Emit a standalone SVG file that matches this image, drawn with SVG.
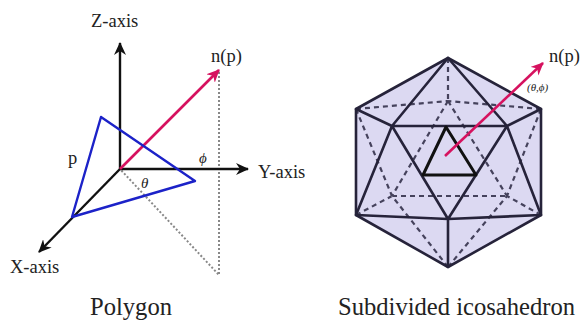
<svg xmlns="http://www.w3.org/2000/svg" width="580" height="320" viewBox="0 0 580 320">
<style>
text{font-family:"Liberation Serif",serif;fill:#222}
.lb{font-size:18.5px}
.cap{font-size:24.6px}
.gr{font-style:italic}
.ax{stroke:#111;stroke-width:2.4;fill:none}
.dot{stroke:#888;stroke-width:2;stroke-dasharray:2 2;fill:none}
.pink{stroke:#d6125f;stroke-width:2.6;fill:none}
.solid{stroke:#26233a;stroke-width:2.6;fill:none;stroke-linecap:round;stroke-linejoin:round}
.dash{stroke:#45425c;stroke-width:2.2;fill:none;stroke-dasharray:5 4}
</style>
<defs>
<marker id="ah" markerUnits="userSpaceOnUse" markerWidth="14" markerHeight="12" refX="12" refY="6" orient="auto"><path d="M0 0L13 6L0 12L4 6Z" fill="#111"/></marker>
<marker id="ap" markerUnits="userSpaceOnUse" markerWidth="14" markerHeight="12" refX="12" refY="6" orient="auto"><path d="M0 0L13 6L0 12L4 6Z" fill="#d6125f"/></marker>
</defs>
<rect width="580" height="320" fill="#fff"/>
<g id="connectors">
<path class="dot" d="M219 72V275L120 169"/>
<path class="ax" marker-end="url(#ah)" d="M120 169V43"/>
<path class="ax" marker-end="url(#ah)" d="M120 169H248"/>
<path class="ax" marker-end="url(#ah)" d="M120 169L39 252"/>
<path class="pink" marker-end="url(#ap)" d="M120 169L219 70"/>
</g>
<g id="polygon"><path d="M101 117L195 181L72 217Z" fill="none" stroke="#1c22c8" stroke-width="2.4" stroke-linejoin="round"/></g>
<g id="labels-left">
<text class="lb" x="91" y="27">Z-axis</text>
<text class="lb" x="211" y="62">n(p)</text>
<text class="lb" x="258" y="178">Y-axis</text>
<text class="lb" x="10" y="273">X-axis</text>
<text class="lb" x="68" y="164">p</text>
<text class="gr" font-size="15" x="199" y="163">ϕ</text>
<text class="gr" font-size="15" x="141" y="188">θ</text>
<text class="cap" x="90" y="315">Polygon</text>
</g>
<g id="icosahedron">
<path d="M448 58L541 109V215L448 267L356 215V109Z" fill="#dcd9f2"/>
<path class="dash" d="M448 58V101M356 109L448 101M541 109L448 101M448 101L392 196M448 101L507 196M392 196H507M356 109L392 196M356 215L392 196M448 267L392 196M541 109L507 196M541 215L507 196M448 267L507 196"/>
<path class="solid" d="M448 58L541 109V215L448 267L356 215V109Z"/>
<path class="solid" d="M448 58L392 126M448 58L507 126M356 109L392 126M541 109L507 126M356 215L392 126M541 215L507 126M392 126H507M392 126L448 219M507 126L448 219M356 215L448 219M541 215L448 219M448 219V267"/>
<path d="M446 127L423 175H476Z" fill="none" stroke="#111" stroke-width="3" stroke-linejoin="round"/>
</g>
<g id="normal"><path class="pink" marker-end="url(#ap)" d="M445 156L543 63"/></g>
<g id="labels-right">
<text class="lb" x="549" y="62">n(p)</text>
<text class="gr" font-size="11" x="527" y="91">(θ,ϕ)</text>
<text class="cap" x="338" y="315">Subdivided icosahedron</text>
</g>
</svg>
